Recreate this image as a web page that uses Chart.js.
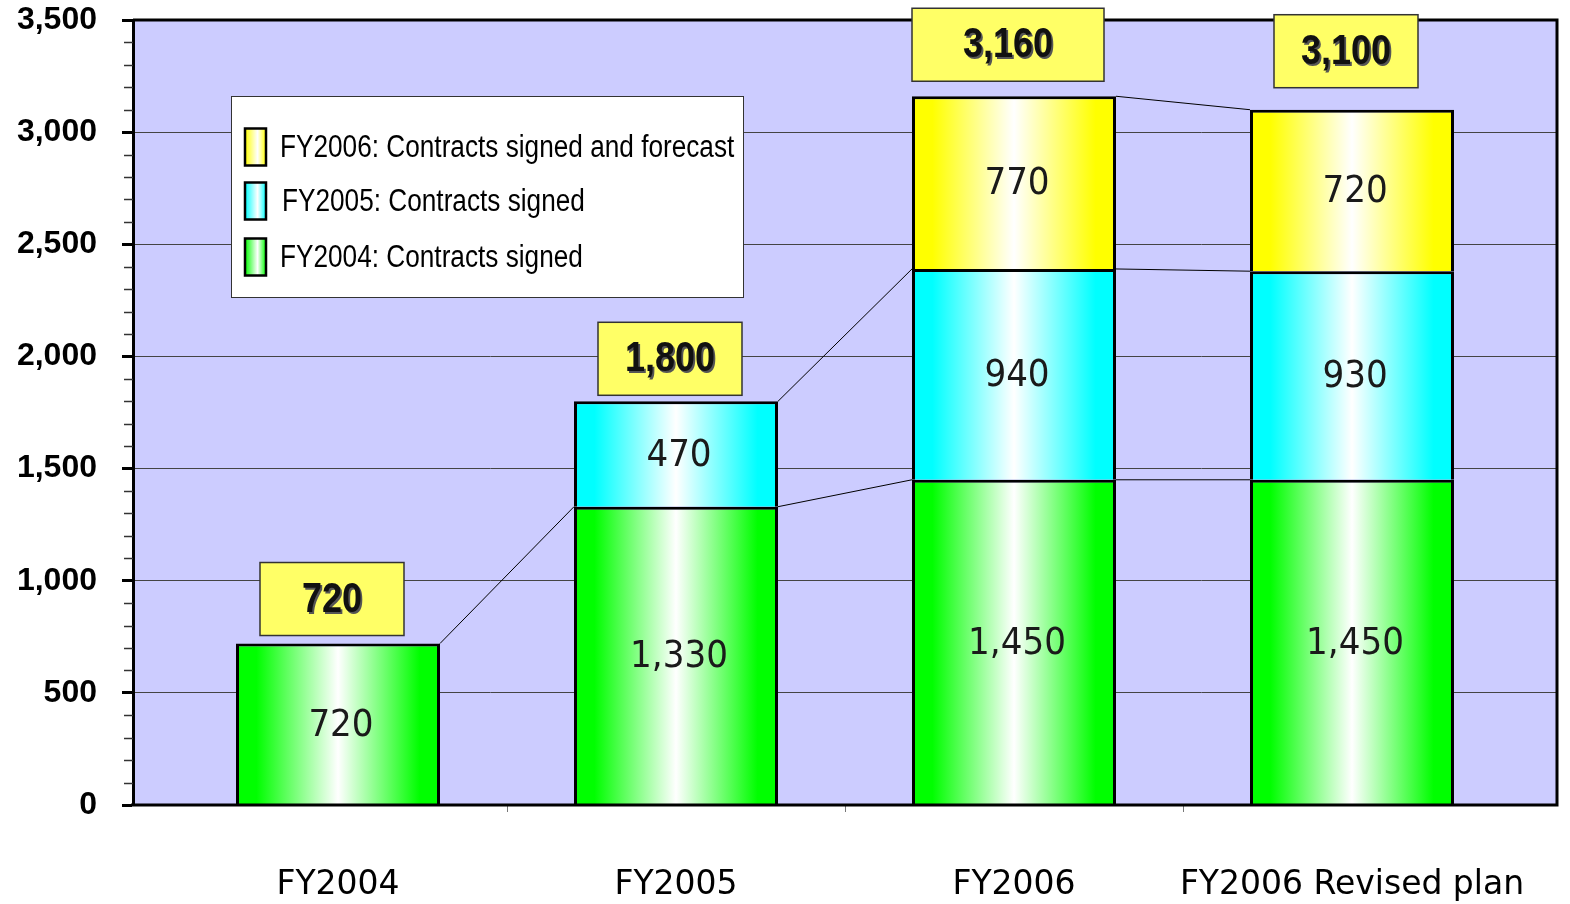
<!DOCTYPE html>
<html>
<head>
<meta charset="utf-8">
<script src="https://cdn.jsdelivr.net/npm/chart.js@4.4.1/dist/chart.umd.min.js"></script>
<style>
  html, body { margin: 0; padding: 0; background: #fff; }
  canvas { display: block; }
</style>
</head>
<body>
<canvas id="barChart" width="1570" height="904"></canvas>
<script>
const categories = ['FY2004', 'FY2005', 'FY2006', 'FY2006 Revised plan'];
const seriesNames = ['FY2004: Contracts signed', 'FY2005: Contracts signed', 'FY2006: Contracts signed and forecast'];
const fy2004Signed = [720, 1330, 1450, 1450];
const fy2005Signed = [null, 470, 940, 930];
const fy2006Signed = [null, null, 770, 720];
const totals = [720, 1800, 3160, 3100];

const BAR_PCT = 0.6036;
const colors = ['#00FF00', '#00FFFF', '#FFFF00'];

// horizontal gradient: colour at edges, white in the middle
function barGradient(c, color) {
  const chart = c.chart;
  const xs = chart.scales.x;
  if (!chart.chartArea || !xs || c.dataIndex === undefined) return color;
  const cx = xs.getPixelForValue(c.dataIndex);
  const half = (xs.getPixelForValue(1) - xs.getPixelForValue(0)) * BAR_PCT / 2;
  const g = chart.ctx.createLinearGradient(cx - half, 0, cx + half, 0);
  g.addColorStop(0, color);
  g.addColorStop(0.1, color);
  g.addColorStop(0.5, '#FFFFFF');
  g.addColorStop(0.9, color);
  g.addColorStop(1, color);
  return g;
}

function toPoints(arr) {
  return arr.map((v, i) => ({ x: i, y: v }));
}

const frame = {
  id: 'frame',
  beforeDraw(chart) {
    const { ctx, chartArea: a } = chart;
    ctx.save();
    ctx.fillStyle = '#CCCCFF';
    ctx.fillRect(a.left, a.top, a.right - a.left, a.bottom - a.top);
    ctx.restore();
  },
  beforeDatasetsDraw(chart) {
    const { ctx, chartArea: a } = chart;
    const ys = chart.scales.y, xs = chart.scales.x;
    ctx.save();
    // minor ticks on y axis
    ctx.strokeStyle = '#333';
    ctx.lineWidth = 1.5;
    for (let v = 100; v < 3500; v += 100) {
      if (v % 500 === 0) continue;
      const y = Math.round(ys.getPixelForValue(v)) + 0.5;
      ctx.beginPath();
      ctx.moveTo(a.left - 9, y);
      ctx.lineTo(a.left, y);
      ctx.stroke();
    }
    // small category separators under the x axis
    ctx.strokeStyle = '#777';
    ctx.lineWidth = 1;
    for (let i = 0; i < categories.length - 1; i++) {
      const x = Math.round(xs.getPixelForValue(i + 0.5)) + 0.5;
      ctx.beginPath();
      ctx.moveTo(x, a.bottom);
      ctx.lineTo(x, a.bottom + 7);
      ctx.stroke();
    }
    // legend box
    const lx = 231, ly = 96, lw = 512, lh = 201;
    ctx.fillStyle = '#FFFFFF';
    ctx.fillRect(lx, ly, lw, lh);
    ctx.strokeStyle = '#333';
    ctx.lineWidth = 1;
    ctx.strokeRect(lx + 0.5, ly + 0.5, lw, lh);
    const rows = [147, 201, 257];
    const order = [2, 1, 0];
    order.forEach((d, k) => {
      const cy = rows[k];
      const sx = 245, sw = 21, sh = 37;
      const g = ctx.createLinearGradient(sx, 0, sx + sw, 0);
      g.addColorStop(0, colors[d]);
      g.addColorStop(0.6, '#FFFFFF');
      g.addColorStop(1, colors[d]);
      ctx.fillStyle = g;
      ctx.fillRect(sx, cy - sh / 2, sw, sh);
      ctx.strokeStyle = '#000';
      ctx.lineWidth = 2.5;
      ctx.strokeRect(sx, cy - sh / 2, sw, sh);
      ctx.save();
      ctx.translate(k === 1 ? 282 : 280, cy + 1);
      ctx.scale(0.845, 1);
      ctx.fillStyle = '#000';
      ctx.font = '31px "Liberation Sans", Arial, sans-serif';
      ctx.textBaseline = 'middle';
      ctx.textAlign = 'left';
      ctx.fillText(chart.data.datasets[d].label, 0, 0);
      ctx.restore();
    });
    // connector lines between stacked segment tops
    ctx.strokeStyle = '#000';
    ctx.lineWidth = 1;
    chart.data.datasets.forEach((ds, d) => {
      const els = chart.getDatasetMeta(d).data;
      for (let i = 0; i < els.length - 1; i++) {
        if (ds.data[i].y == null || ds.data[i + 1].y == null) continue;
        const e1 = els[i], e2 = els[i + 1];
        ctx.beginPath();
        ctx.moveTo(e1.x + e1.width / 2, e1.y);
        ctx.lineTo(e2.x - e2.width / 2, e2.y);
        ctx.stroke();
      }
    });
    ctx.restore();
  },
  afterDatasetsDraw(chart) {
    const { ctx, chartArea: a } = chart;
    ctx.save();
    // top / right / bottom frame
    ctx.strokeStyle = '#000';
    ctx.lineWidth = 3;
    ctx.beginPath();
    ctx.moveTo(a.left, a.top);
    ctx.lineTo(a.right, a.top);
    ctx.lineTo(a.right, a.bottom);
    ctx.lineTo(a.left - 2, a.bottom);
    ctx.stroke();

    // segment values
    ctx.fillStyle = '#1a1a1a';
    ctx.font = '38px "DejaVu Sans Condensed", "Liberation Sans", sans-serif';
    ctx.textAlign = 'center';
    ctx.textBaseline = 'middle';
    chart.data.datasets.forEach((ds, d) => {
      chart.getDatasetMeta(d).data.forEach((el, i) => {
        const v = ds.data[i].y;
        if (v == null) return;
        ctx.fillText(v.toLocaleString('en-US'), el.x + 3, (el.y + el.base) / 2 + 2);
      });
    });

    // total boxes
    const topMeta = chart.getDatasetMeta(0).data;
    const ys = chart.scales.y;
    const boxW = [144, 144, 192, 144];
    const gap = [8, 6, 15, 22];
    totals.forEach((t, i) => {
      const cx = topMeta[i].x - 6;
      const bottom = ys.getPixelForValue(t) - gap[i];
      const w = boxW[i], h = 73;
      ctx.fillStyle = '#FFFF66';
      ctx.fillRect(cx - w / 2, bottom - h, w, h);
      ctx.strokeStyle = '#333';
      ctx.lineWidth = 1.5;
      ctx.strokeRect(cx - w / 2, bottom - h, w, h);
      ctx.save();
      ctx.translate(cx, bottom - h / 2 + 1);
      ctx.scale(0.9, 1.05);
      ctx.font = 'bold 40px "Liberation Sans", Arial, sans-serif';
      const label = t.toLocaleString('en-US');
      ctx.fillStyle = '#555';
      ctx.fillText(label, 2, 2);
      ctx.fillStyle = '#111';
      ctx.fillText(label, 0, 0);
      ctx.restore();
    });
    ctx.restore();
  }
};

const ctx = document.getElementById('barChart').getContext('2d');
const barChart = new Chart(ctx, {
  type: 'bar',
  data: {
    datasets: [fy2004Signed, fy2005Signed, fy2006Signed].map((arr, d) => ({
      label: seriesNames[d],
      data: toPoints(arr),
      backgroundColor: c => barGradient(c, colors[d]),
      borderColor: '#000',
      borderWidth: 3,
      categoryPercentage: 1,
      barPercentage: BAR_PCT
    }))
  },
  options: {
    responsive: false,
    animation: false,
    layout: { padding: { top: 20, right: 13, left: 0, bottom: 0 } },
    plugins: { legend: { display: false }, tooltip: { enabled: false } },
    scales: {
      x: {
        type: 'linear',
        stacked: true,
        offset: false,
        min: -0.6065,
        max: 3.6065,
        afterBuildTicks: s => { s.ticks = categories.map((c, i) => ({ value: i })); },
        afterFit: s => { s.height = 99; s.paddingLeft = 0; s.paddingRight = 0; },
        grid: { display: false, drawTicks: false },
        border: { display: false },
        ticks: {
          autoSkip: false,
          maxRotation: 0,
          padding: 61,
          color: '#000',
          font: { family: '"DejaVu Sans", Verdana, sans-serif', size: 33 },
          callback: v => categories[v] ?? ''
        }
      },
      y: {
        stacked: true,
        min: 0,
        max: 3500,
        afterFit: s => { s.width = 133; s.paddingTop = 0; s.paddingBottom = 0; },
        grid: { color: '#444', lineWidth: 1, tickColor: '#000', tickWidth: 3, tickLength: 11 },
        border: { display: true, color: '#000', width: 3 },
        ticks: {
          stepSize: 500,
          padding: 25,
          color: '#000',
          font: { family: '"Liberation Sans", Arial, sans-serif', size: 32, weight: 'bold' },
          callback: v => v.toLocaleString('en-US')
        }
      }
    }
  },
  plugins: [frame]
});
</script>
</body>
</html>
